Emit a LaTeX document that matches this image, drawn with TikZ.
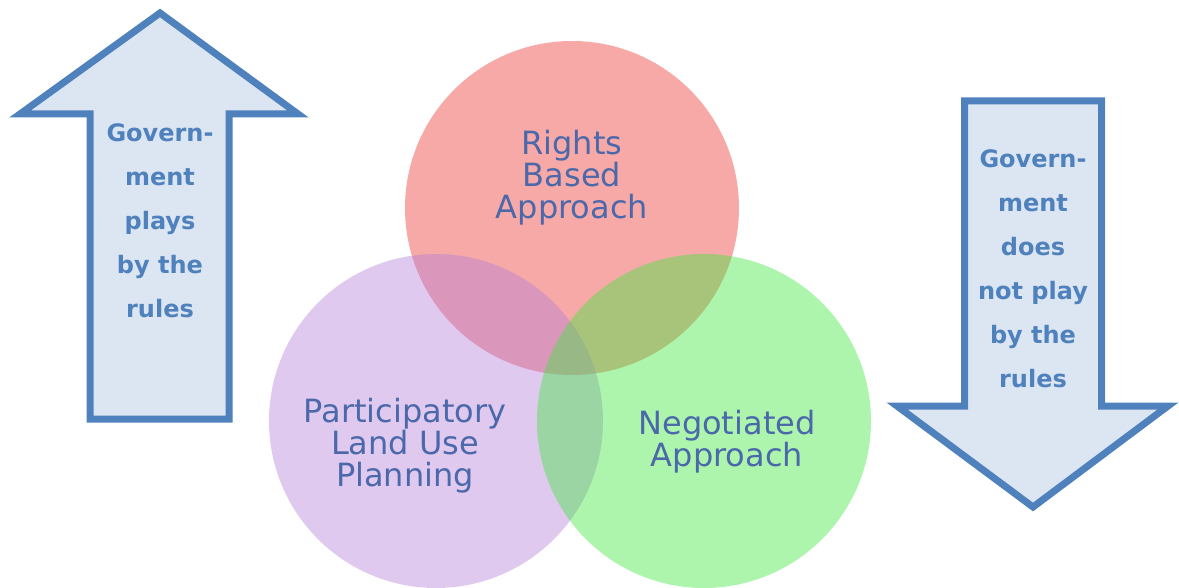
\documentclass[tikz,border=0pt]{standalone}
\usepackage{fontspec}
\setmainfont{DejaVu Sans}
\usepackage{tikz}
\usetikzlibrary{positioning}
\definecolor{arrowblue}{HTML}{4F81BD}
\definecolor{arrowfill}{HTML}{DCE6F2}
\definecolor{textblue}{HTML}{4A68AA}
\definecolor{rightsred}{HTML}{EC3230}
\definecolor{planpurple}{HTML}{B57ED6}
\definecolor{neggreen}{HTML}{3CE73C}
\tikzset{bigarrow/.style={draw=arrowblue, fill=arrowfill, line width=7pt},
  arrowtext/.style={text=arrowblue, align=center, font=\fontsize{24}{44}\selectfont\bfseries},
  setcircle/.style={shape=circle, minimum size=334pt, inner sep=0pt, fill opacity=0.42},
  circletext/.style={text=textblue, align=center, font=\fontsize{32}{32}\selectfont}}

\begin{document}
\begin{tikzpicture}[x=1pt, y=-1pt]
    \useasboundingbox (0,0) rectangle (1179,588);
    % the three overlapping sets
    \node[setcircle, fill=rightsred] (rights) at (572,208) {};
    \node[setcircle, fill=planpurple] (plan) at (436,421) {};
    \node[setcircle, fill=neggreen] (neg) at (704,421) {};
    \node[circletext] (rightslabel) at ([yshift=30pt]rights.center) {Rights\\Based\\Approach};
    \node[circletext] (planlabel) at ([xshift=-31pt, yshift=-25pt]plan.center) {Participatory\\Land Use\\Planning};
    \node[circletext] (neglabel) at ([xshift=23pt, yshift=-21pt]neg.center) {Negotiated\\Approach};
    % up and down arrows
    \draw[bigarrow] (160,13) -- (20,114) -- (90,114) -- (90,419) -- (229,419) -- (229,114) -- (298,114) -- cycle;
    \draw[bigarrow] (964.5,101) -- (1101.5,101) -- (1101.5,406) -- (1168,406) -- (1033,507) -- (897,406) -- (964.5,406) -- cycle;
    \node[arrowtext] (up) at (160,221) {Govern-\\ment\\plays\\by the\\rules};
    \node[arrowtext] (down) at (1033,269) {Govern-\\ment\\does\\not play\\by the\\rules};
  \end{tikzpicture}
\end{document}
